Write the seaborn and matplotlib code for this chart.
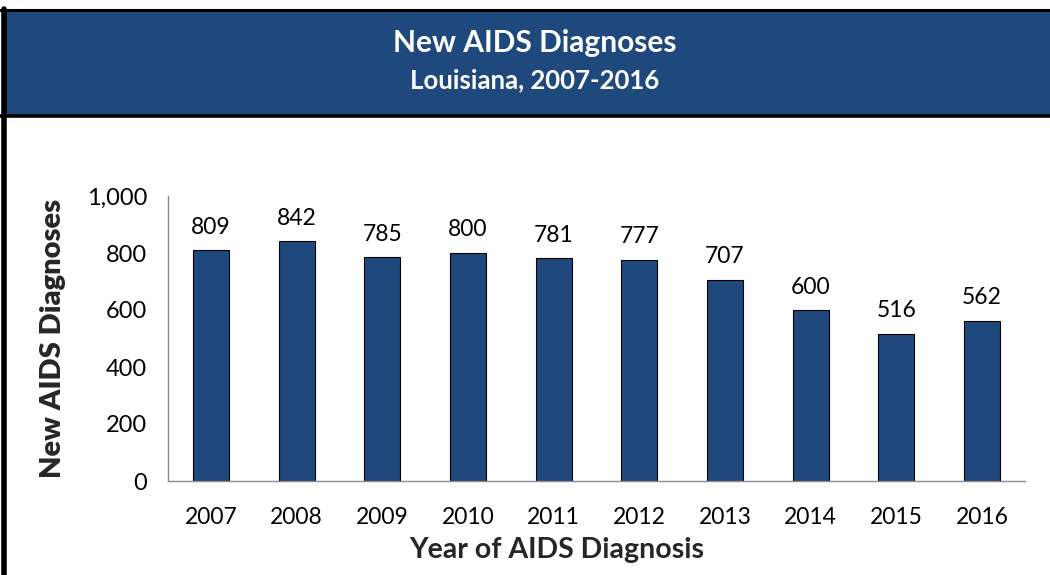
import matplotlib
matplotlib.use("Agg")
import matplotlib.pyplot as plt
import seaborn as sns
import pandas as pd
from matplotlib.patches import Rectangle
from matplotlib.lines import Line2D

years = ["2007", "2008", "2009", "2010", "2011", "2012", "2013", "2014", "2015", "2016"]
diagnoses = [809, 842, 785, 800, 781, 777, 707, 600, 516, 562]
y_ticks = [0, 200, 400, 600, 800, 1000]
y_tick_labels = ["0", "200", "400", "600", "800", "1,000"]

title = "New AIDS Diagnoses"
subtitle = "Louisiana, 2007-2016"
xlabel = "Year of AIDS Diagnosis"
ylabel = "New AIDS Diagnoses"

sns.set_style("white")
plt.rcParams["font.family"] = ["Lato", "DejaVu Sans"]

W, H = 1050, 575
fig = plt.figure(figsize=(W / 100, H / 100), dpi=100)
fig.patch.set_facecolor("white")

navy = "#1F497D"
# header band
fig.patches.append(Rectangle((5 / W, 1 - 115 / H), 1.0, (115 - 10) / H,
                             transform=fig.transFigure, facecolor=navy,
                             edgecolor="none", zorder=0))
# black borders
fig.lines.append(Line2D([0, 1], [1 - 9.5 / H, 1 - 9.5 / H], transform=fig.transFigure,
                        color="black", linewidth=2.2))
fig.lines.append(Line2D([0, 1], [1 - 116 / H, 1 - 116 / H], transform=fig.transFigure,
                        color="black", linewidth=2.6))
fig.lines.append(Line2D([4 / W, 4 / W], [0, 1 - 8.5 / H], transform=fig.transFigure,
                        color="black", linewidth=4))

fig.text(0.509, 1 - 43 / H, title, ha="center", va="center", color="white",
         fontsize=21.5, fontweight="bold")
fig.text(0.509, 1 - 80 / H, subtitle, ha="center", va="center", color="white",
         fontsize=18.5, fontweight="bold")

ax = fig.add_axes([168 / W, 1 - 481 / H, (1025 - 168) / W, (481 - 196) / H])
df = pd.DataFrame({"year": years, "count": diagnoses})
sns.barplot(data=df, x="year", y="count", color=navy, saturation=1, width=0.42,
            edgecolor="black", linewidth=0.8, ax=ax)

ax.set_ylim(0, 1000)
ax.set_xlim(-0.5, len(years) - 0.5)
ax.set_yticks(y_ticks)
ax.set_yticklabels(y_tick_labels)
ax.tick_params(axis="y", which="major", length=7, color="#8c8c8c", width=1,
               labelsize=17, pad=8, labelcolor="black")
ax.set_xticks([i - 0.5 for i in range(len(years) + 1)], minor=True)
ax.tick_params(axis="x", which="minor", length=7, color="#8c8c8c", width=1)
ax.tick_params(axis="x", which="major", length=0, labelsize=16.5, pad=19, labelcolor="black")

for s in ["top", "right"]:
    ax.spines[s].set_visible(False)
for s in ["left", "bottom"]:
    ax.spines[s].set_color("#8c8c8c")
    ax.spines[s].set_linewidth(1)

for c in ax.containers:
    ax.bar_label(c, labels=[str(v) for v in diagnoses], padding=9, fontsize=16.5, color="black")

ax.set_xlabel(xlabel, fontsize=20.5, fontweight="bold", labelpad=6, x=0.454)
ax.set_ylabel(ylabel, fontsize=21, fontweight="heavy", labelpad=15)

fig.savefig("out.png", dpi=100, facecolor="white")
